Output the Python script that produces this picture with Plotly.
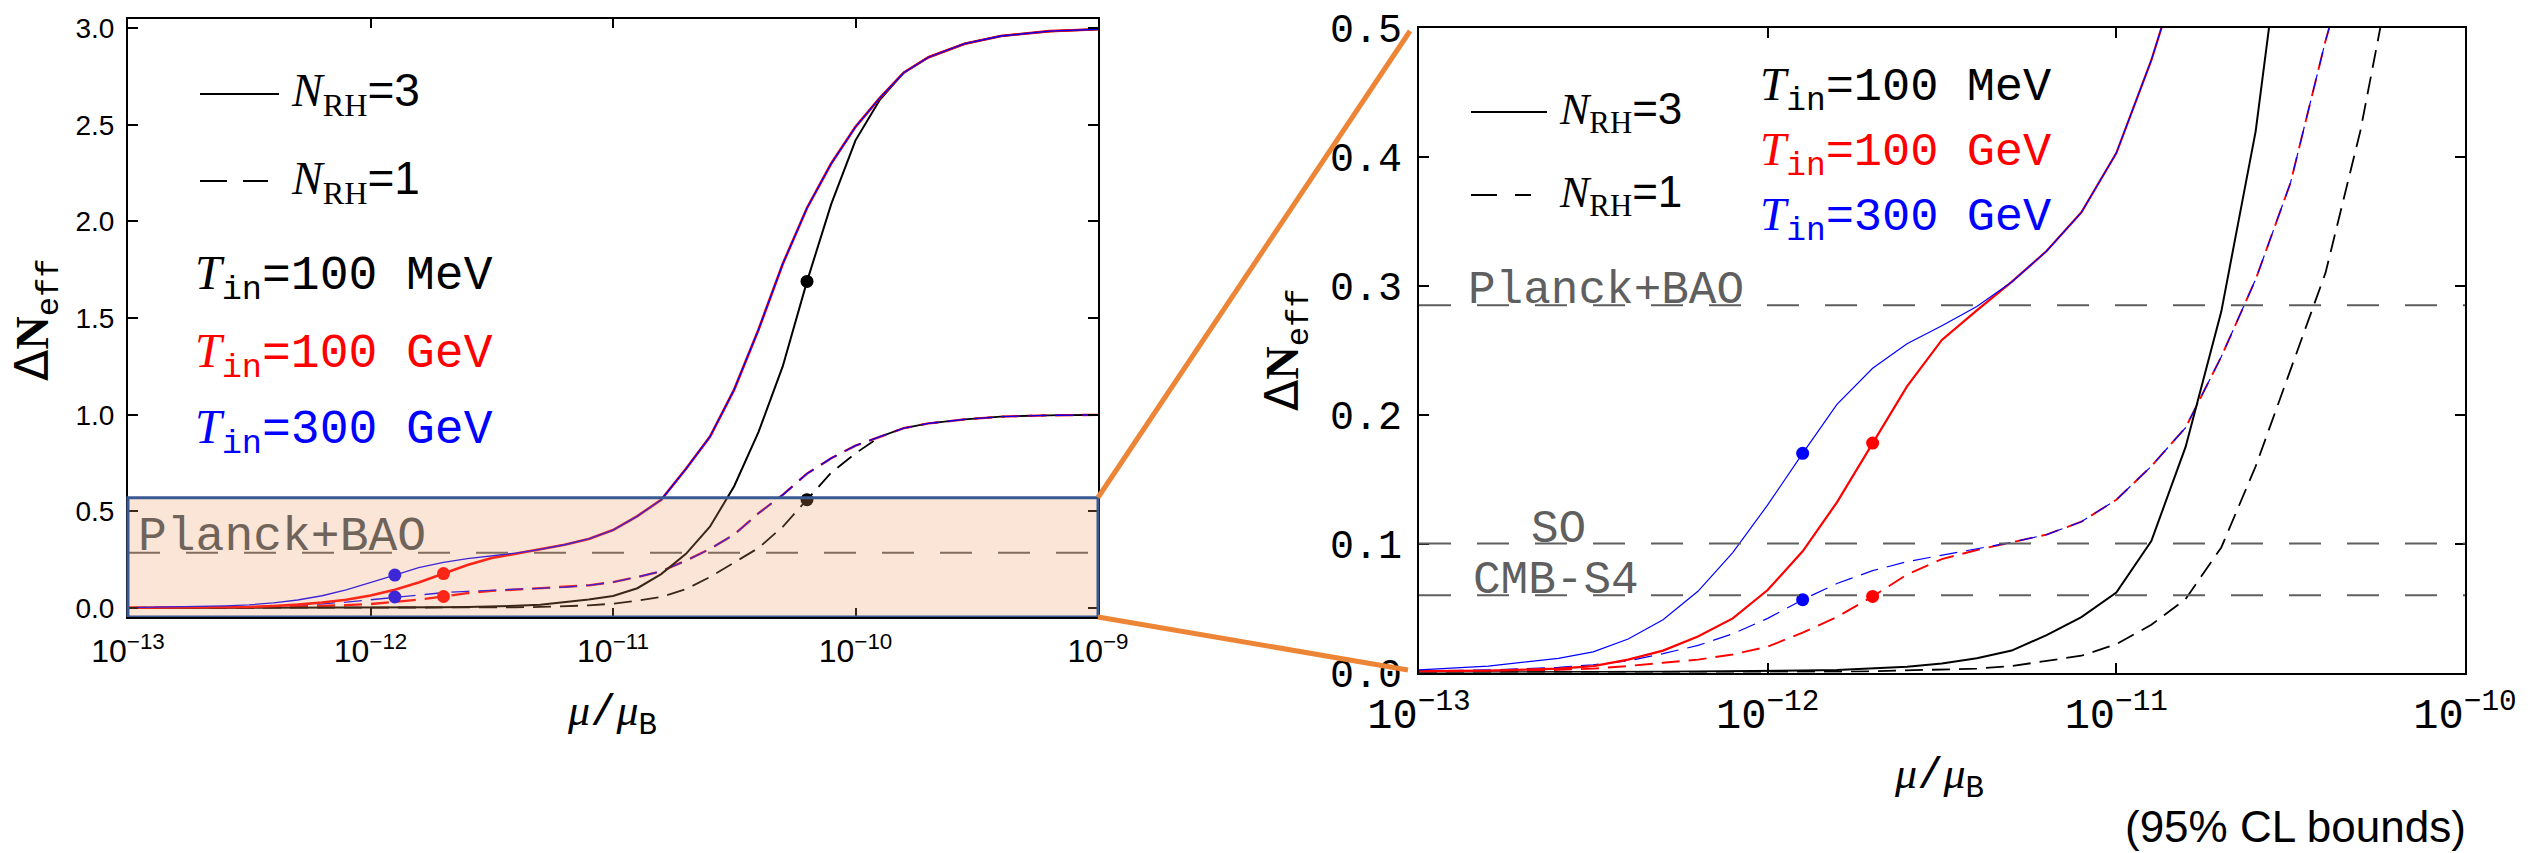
import plotly.graph_objects as go

W, H = 2537, 853

# ---------------- data ----------------
MU = [1.0e-13, 1.58e-13, 2.51e-13, 3.16e-13, 3.98e-13, 5.01e-13, 6.31e-13, 7.94e-13,
      1.0e-12, 1.26e-12, 1.58e-12, 2.0e-12, 2.51e-12, 3.16e-12, 3.98e-12, 5.01e-12,
      6.31e-12, 7.94e-12, 1.0e-11, 1.26e-11, 1.58e-11, 2.0e-11, 2.51e-11, 3.16e-11,
      3.98e-11, 5.01e-11, 6.31e-11, 7.94e-11, 1.0e-10, 1.26e-10, 1.58e-10, 2.0e-10,
      2.82e-10, 3.98e-10, 6.31e-10, 1.0e-9]

# N_RH = 3 (solid)
N3_100MeV = [0.0, 0.0, 0.0002, 0.0003, 0.0004, 0.0005, 0.0007, 0.0009,
             0.001, 0.0015, 0.002, 0.003, 0.0045, 0.007, 0.011, 0.017,
             0.029, 0.043, 0.062, 0.102, 0.175, 0.28, 0.42, 0.63,
             0.91, 1.25, 1.69, 2.09, 2.42, 2.63, 2.77, 2.85,
             2.92, 2.96, 2.985, 2.995]
N3_100GeV = [0.001, 0.0015, 0.003, 0.005, 0.010, 0.017, 0.028, 0.042,
             0.064, 0.094, 0.132, 0.178, 0.222, 0.258, 0.281, 0.303,
             0.327, 0.357, 0.403, 0.475, 0.56, 0.72, 0.886, 1.13,
             1.44, 1.78, 2.07, 2.30, 2.49, 2.64, 2.77, 2.85,
             2.92, 2.96, 2.985, 2.995]
N3_300GeV = [0.002, 0.005, 0.011, 0.016, 0.026, 0.041, 0.063, 0.093,
             0.130, 0.170, 0.208, 0.236, 0.255, 0.269, 0.284, 0.303,
             0.327, 0.357, 0.403, 0.475, 0.56, 0.72, 0.886, 1.13,
             1.44, 1.78, 2.07, 2.30, 2.49, 2.64, 2.77, 2.85,
             2.92, 2.96, 2.985, 2.995]

# N_RH = 1 (dashed)
N1_100MeV = [0.0, 0.0, 0.0, 0.0, 0.0, 0.0, 0.0, 0.0001,
             0.0002, 0.0003, 0.0005, 0.001, 0.0015, 0.002, 0.003, 0.005,
             0.009, 0.013, 0.022, 0.037, 0.057, 0.097, 0.16, 0.235,
             0.31, 0.42, 0.56, 0.70, 0.80, 0.886, 0.93, 0.955,
             0.976, 0.99, 0.997, 0.999]
N1_100GeV = [0.0005, 0.001, 0.002, 0.003, 0.005, 0.0076, 0.010, 0.014,
             0.020, 0.031, 0.043, 0.059, 0.076, 0.088, 0.095, 0.101,
             0.107, 0.117, 0.134, 0.16, 0.19, 0.245, 0.305, 0.38,
             0.49, 0.585, 0.695, 0.775, 0.84, 0.886, 0.93, 0.955,
             0.976, 0.99, 0.997, 0.999]
N1_300GeV = [0.001, 0.002, 0.004, 0.006, 0.009, 0.0146, 0.021, 0.030,
             0.042, 0.0565, 0.069, 0.079, 0.086, 0.091, 0.096, 0.101,
             0.107, 0.117, 0.134, 0.16, 0.19, 0.245, 0.305, 0.38,
             0.49, 0.585, 0.695, 0.775, 0.84, 0.886, 0.93, 0.955,
             0.976, 0.99, 0.997, 0.999]

# highlighted points
DOT_MU = [6.31e-11, 6.31e-11, 1.26e-12, 1.26e-12, 2.0e-12, 2.0e-12]
DOT_DN = [1.69, 0.56, 0.170, 0.0565, 0.178, 0.059]
DOT_COL = ["black", "black", "blue", "blue", "red", "red"]

# experimental bounds
PLANCK_BAO = 0.285
SO_BOUND = 0.10
CMBS4_BOUND = 0.06
ZOOM_TOP = 0.57

X_TICKS_L = [1e-13, 1e-12, 1e-11, 1e-10, 1e-9]
X_TEXT_L = ["10<sup>−13</sup>", "10<sup>−12</sup>", "10<sup>−11</sup>", "10<sup>−10</sup>", "10<sup>−9</sup>"]
X_TICKS_R = [1e-13, 1e-12, 1e-11, 1e-10]
X_TEXT_R = ["10<sup>−13</sup>", "10<sup>−12</sup>", "10<sup>−11</sup>", "10<sup>−10</sup>"]
Y_TICKS_L = [0.0, 0.5, 1.0, 1.5, 2.0, 2.5, 3.0]
Y_TEXT_L = ["0.0", "0.5", "1.0", "1.5", "2.0", "2.5", "3.0"]
Y_TICKS_R = [0.0, 0.1, 0.2, 0.3, 0.4, 0.5]
Y_TEXT_R = ["0.0", "0.1", "0.2", "0.3", "0.4", "0.5"]

# ---------------- helpers ----------------
def PX(x):
    return x / W


def PY(y):
    return 1 - y / H


SERIF = "Liberation Serif"
SANS = "Liberation Sans"
MONO = "Liberation Mono"
GRAY = "rgb(95,95,95)"
DASH = "18px,9px"

fig = go.Figure()

panels = [("x", "y", 2.6, 1.3, 2.0), ("x2", "y2", 2.2, 1.2, 2.0)]
for xa, ya, wr, wb, wk in panels:
    # dashed: N_RH = 1
    fig.add_trace(go.Scatter(x=MU, y=N1_100MeV, mode="lines", xaxis=xa, yaxis=ya,
                             line=dict(color="black", width=wk - 0.2, dash=DASH), showlegend=False))
    fig.add_trace(go.Scatter(x=MU, y=N1_100GeV, mode="lines", xaxis=xa, yaxis=ya,
                             line=dict(color="red", width=wr - 0.3, dash=DASH), showlegend=False))
    fig.add_trace(go.Scatter(x=MU, y=N1_300GeV, mode="lines", xaxis=xa, yaxis=ya,
                             line=dict(color="blue", width=wb, dash=DASH), showlegend=False))
    # solid: N_RH = 3
    fig.add_trace(go.Scatter(x=MU, y=N3_100MeV, mode="lines", xaxis=xa, yaxis=ya,
                             line=dict(color="black", width=wk), showlegend=False))
    fig.add_trace(go.Scatter(x=MU, y=N3_100GeV, mode="lines", xaxis=xa, yaxis=ya,
                             line=dict(color="red", width=wr), showlegend=False))
    fig.add_trace(go.Scatter(x=MU, y=N3_300GeV, mode="lines", xaxis=xa, yaxis=ya,
                             line=dict(color="blue", width=wb), showlegend=False))
    fig.add_trace(go.Scatter(x=DOT_MU, y=DOT_DN, mode="markers", xaxis=xa, yaxis=ya,
                             marker=dict(color=DOT_COL, size=13, line=dict(width=0)),
                             showlegend=False))

# ---------------- axes ----------------
common = dict(showline=True, linecolor="black", linewidth=2, mirror="allticks",
              ticks="inside", tickcolor="black", tickwidth=1.5, showgrid=False,
              zeroline=False, tickmode="array", automargin=False)

log_minor_l = [k * 10.0 ** e for e in range(-13, -9) for k in range(2, 10)]
log_minor_r = [k * 10.0 ** e for e in range(-13, -10) for k in range(2, 10)]
lin_minor_l = [i / 10 for i in range(0, 31) if i % 5]
lin_minor_r = [i / 50 for i in range(0, 26) if i % 5]

XL = dict(type="log", range=[-13, -9], domain=[PX(128), PX(1098)])
YL = dict(range=[-0.047, 3.048], domain=[PY(617), PY(19)])
XR = dict(type="log", range=[-13, -10], domain=[PX(1419), PX(2465)])
YR = dict(range=[0, 0.5], domain=[PY(672.5), PY(28)])

fig.update_layout(
    width=W, height=H, margin=dict(l=0, r=0, t=0, b=0, autoexpand=False),
    paper_bgcolor="white", plot_bgcolor="white",
    xaxis=dict(common, **XL, anchor="y",
               tickvals=X_TICKS_L, ticktext=X_TEXT_L, ticklen=9,
               tickfont=dict(family=SANS, size=32, color="black"), ticklabelstandoff=5),
    yaxis=dict(common, **YL, anchor="x",
               tickvals=Y_TICKS_L, ticktext=Y_TEXT_L, ticklen=10,
               tickfont=dict(family=SANS, size=28, color="black"), ticklabelstandoff=6),
    xaxis2=dict(common, **XR, anchor="y2",
                tickvals=X_TICKS_R, ticktext=X_TEXT_R, ticklen=10,
                tickfont=dict(family=MONO, size=42, color="black"), ticklabelstandoff=3),
    yaxis2=dict(common, **YR, anchor="x2",
                tickvals=Y_TICKS_R, ticktext=Y_TEXT_R, ticklen=10,
                tickfont=dict(family=MONO, size=40, color="black"), ticklabelstandoff=7),
    # minor ticks drawn by overlaying axes
    xaxis3=dict(common, **XL, anchor="y", overlaying="x", tickvals=log_minor_l,
                showticklabels=False, ticklen=5, tickwidth=1.2),
    yaxis3=dict(common, **YL, anchor="x", overlaying="y", tickvals=lin_minor_l,
                showticklabels=False, ticklen=6, tickwidth=1.2),
    xaxis4=dict(common, **XR, anchor="y2", overlaying="x2", tickvals=log_minor_r,
                showticklabels=False, ticklen=6, tickwidth=1.2),
    yaxis4=dict(common, **YR, anchor="x2", overlaying="y2", tickvals=lin_minor_r,
                showticklabels=False, ticklen=7, tickwidth=1.2),
)

# ---------------- shapes ----------------
shapes = []
shapes.append(dict(type="line", xref="x domain", yref="y", x0=0, x1=1, y0=PLANCK_BAO, y1=PLANCK_BAO,
                   line=dict(color=GRAY, width=2, dash="32px,26px")))
for yv in [PLANCK_BAO, SO_BOUND, CMBS4_BOUND]:
    shapes.append(dict(type="line", xref="x2 domain", yref="y2", x0=0, x1=1, y0=yv, y1=yv,
                       line=dict(color=GRAY, width=2, dash="32px,26px")))
# zoom region on the left panel
shapes.append(dict(type="rect", xref="x domain", yref="y", x0=0, x1=1, y0=-0.047, y1=ZOOM_TOP,
                   fillcolor="rgba(240,150,90,0.25)", line=dict(color="rgb(58,90,148)", width=3),
                   layer="above"))
# connector lines
shapes.append(dict(type="line", xref="paper", yref="paper", x0=PX(1098), y0=PY(497.5),
                   x1=PX(1410), y1=PY(31), line=dict(color="rgb(237,133,55)", width=5)))
shapes.append(dict(type="line", xref="paper", yref="paper", x0=PX(1098), y0=PY(617),
                   x1=PX(1408), y1=PY(670), line=dict(color="rgb(237,133,55)", width=5)))
# legend samples
shapes.append(dict(type="line", xref="paper", yref="paper", x0=PX(200), x1=PX(279),
                   y0=PY(94), y1=PY(94), line=dict(color="black", width=2)))
shapes.append(dict(type="line", xref="paper", yref="paper", x0=PX(200), x1=PX(268),
                   y0=PY(181), y1=PY(181), line=dict(color="black", width=2, dash="27px,16px")))
shapes.append(dict(type="line", xref="paper", yref="paper", x0=PX(1471), x1=PX(1547),
                   y0=PY(112), y1=PY(112), line=dict(color="black", width=2)))
shapes.append(dict(type="line", xref="paper", yref="paper", x0=PX(1471), x1=PX(1531),
                   y0=PY(195), y1=PY(195), line=dict(color="black", width=2, dash="26px,18px")))
fig.update_layout(shapes=shapes)

# ---------------- annotations ----------------
ann = []


def txt(x, y, text, size, family, color="black", xanchor="left", angle=0):
    ann.append(dict(xref="paper", yref="paper", x=PX(x), y=PY(y), text=text, showarrow=False,
                    xanchor=xanchor, yanchor="middle", textangle=angle,
                    font=dict(family=family, size=size, color=color)))


def nrh(n):
    return (f'<span style="font-family:{SERIF}"><i>N</i><sub>RH</sub></span>'
            f'<span style="font-family:{SANS}">={n}</span>')


def tin(val):
    return f'<span style="font-family:{SERIF}"><i>T</i></span><sub>in</sub>={val}'


# left legend
txt(289, 94, nrh(3), 46, SERIF)
txt(289, 181, nrh(1), 46, SERIF)
txt(193, 277, tin("100 MeV"), 48, MONO, "black")
txt(193, 355, tin("100 GeV"), 48, MONO, "red")
txt(193, 432, tin("300 GeV"), 48, MONO, "blue")
# right legend
txt(1557, 112, nrh(3), 44, SERIF)
txt(1557, 195, nrh(1), 44, SERIF)
txt(1758, 89, tin("100 MeV"), 47, MONO, "black")
txt(1758, 154, tin("100 GeV"), 47, MONO, "red")
txt(1758, 219, tin("300 GeV"), 47, MONO, "blue")

# bound labels
txt(136, 537, "Planck+BAO", 48, MONO, "rgb(112,100,90)")
txt(1466, 291, "Planck+BAO", 46, MONO, GRAY)
txt(1529, 530, "SO", 46, MONO, GRAY)
txt(1471, 581, "CMB-S4", 46, MONO, GRAY)

# axis titles
mu_title = (f'<span style="font-family:{SERIF}"><i>μ</i></span>/'
            f'<span style="font-family:{SERIF}"><i>μ</i></span><sub>B</sub>')
txt(612, 714, mu_title, 44, MONO, xanchor="center")
txt(1939, 777, mu_title, 44, MONO, xanchor="center")
dn_title = (f'<span style="font-family:DejaVu Sans">Δ</span>'
            f'<span style="font-family:{SERIF}"><b>N</b></span><sub>eff</sub>')
txt(36, 320, dn_title, 46, MONO, xanchor="center", angle=-90)
txt(1287, 350, dn_title, 46, MONO, xanchor="center", angle=-90)

txt(2468, 826, "(95% CL bounds)", 44, SANS, xanchor="right")

fig.update_layout(annotations=ann)

fig.write_html("out.html")
